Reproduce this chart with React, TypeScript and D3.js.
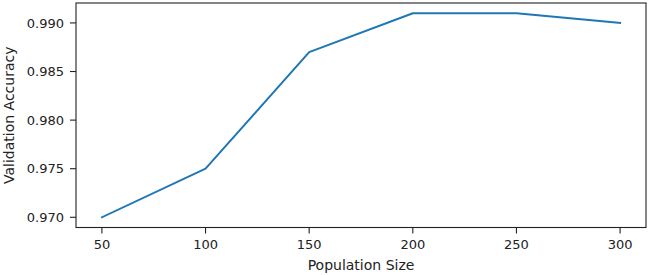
import React from "react";
import * as d3 from "d3";

const populationSizes = [50, 100, 150, 200, 250, 300];
const accuracies = [0.970, 0.975, 0.987, 0.991, 0.991, 0.990];
const xTicks = [50, 100, 150, 200, 250, 300];
const yTicks = [0.970, 0.975, 0.980, 0.985, 0.990];
const xLabel = "Population Size";
const yLabel = "Validation Accuracy";

const W = 649;
const H = 275;
const M = { left: 76, right: 3, top: 3, bottom: 47.5 };
const FONT = "'DejaVu Sans', sans-serif";

export default function App() {
  const xMin = d3.min(populationSizes)!;
  const xMax = d3.max(populationSizes)!;
  const yMin = d3.min(accuracies)!;
  const yMax = d3.max(accuracies)!;
  const xPad = (xMax - xMin) * 0.05;
  const yPad = (yMax - yMin) * 0.05;

  const x = d3.scaleLinear().domain([xMin - xPad, xMax + xPad]).range([M.left, W - M.right]);
  const y = d3.scaleLinear().domain([yMin - yPad, yMax + yPad]).range([H - M.bottom, M.top]);

  const line = d3
    .line<number>()
    .x((_, i) => x(populationSizes[i]))
    .y((d) => y(d));

  const x0 = M.left;
  const x1 = W - M.right;
  const y0 = M.top;
  const y1 = H - M.bottom;

  return (
    <svg
      width={W}
      height={H}
      style={{ position: "absolute", left: 0, top: 0, background: "#fff" }}
    >
      <rect x={0} y={0} width={W} height={H} fill="#fff" />
      <path d={line(accuracies) ?? ""} fill="none" stroke="#1f77b4" strokeWidth={2} strokeLinejoin="round" strokeLinecap="square" />
      <rect x={x0} y={y0} width={x1 - x0} height={y1 - y0} fill="none" stroke="#222" strokeWidth={1.1} />
      {xTicks.map((t) => (
        <g key={"x" + t}>
          <line x1={x(t)} x2={x(t)} y1={y1} y2={y1 + 6} stroke="#222" strokeWidth={1.1} />
          <text x={x(t)} y={248.5} textAnchor="middle" fontFamily={FONT} fontSize={13} fill="#222">
            {t}
          </text>
        </g>
      ))}
      {yTicks.map((t) => (
        <g key={"y" + t}>
          <line x1={x0 - 6} x2={x0} y1={y(t)} y2={y(t)} stroke="#222" strokeWidth={1.1} />
          <text x={64} y={y(t)} dy="0.36em" textAnchor="end" fontFamily={FONT} fontSize={13} fill="#222">
            {t.toFixed(3)}
          </text>
        </g>
      ))}
      <text x={(x0 + x1) / 2} y={270} textAnchor="middle" fontFamily={FONT} fontSize={14} fill="#222">
        {xLabel}
      </text>
      <text
        transform={`translate(14, ${(y0 + y1) / 2}) rotate(-90)`}
        textAnchor="middle"
        fontFamily={FONT}
        fontSize={14}
        fill="#222"
      >
        {yLabel}
      </text>
    </svg>
  );
}
